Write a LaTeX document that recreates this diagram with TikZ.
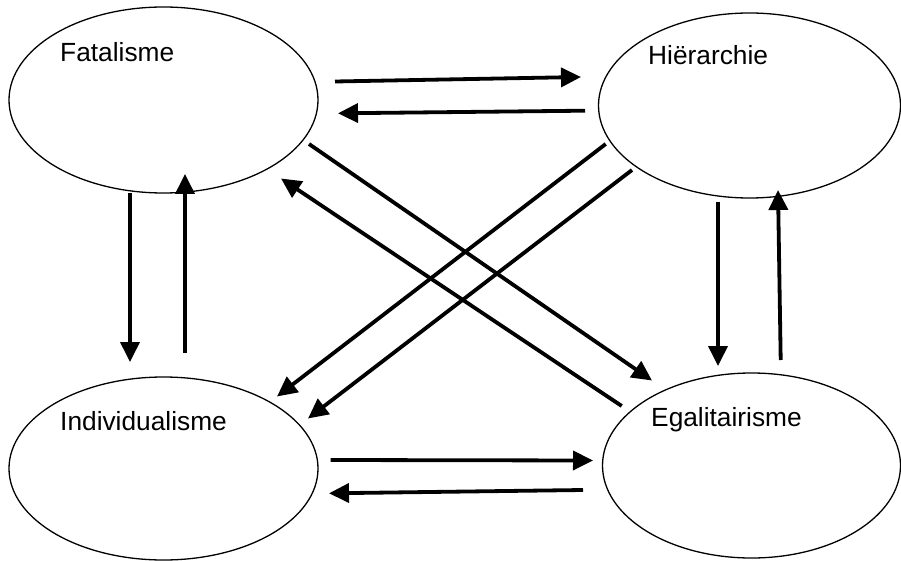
\documentclass[tikz,border=0pt]{standalone}
\usepackage{fontspec}
\setmainfont{Liberation Sans}
\usetikzlibrary{shapes.geometric,arrows.meta}
\begin{document}
\begin{tikzpicture}[x=1pt,y=-1pt,
  oval/.style={draw,ellipse,line width=1.3pt,inner sep=0pt},
  lbl/.style={anchor=base west,inner sep=0pt,font=\fontsize{26.3}{30}\selectfont},
  arr/.style={line width=3.8pt,-{Triangle[length=20pt,width=19pt]}}]
\useasboundingbox (0,0) rectangle (901,561);
% ellipses
\node[oval,minimum width=309pt,minimum height=186pt] (fat) at (163.5,100) {};
\node[oval,minimum width=302pt,minimum height=185pt] (hie) at (749.5,105.5) {};
\node[oval,minimum width=309pt,minimum height=183pt] (ind) at (163.5,468.5) {};
\node[oval,minimum width=298pt,minimum height=185pt] (ega) at (751.5,465.5) {};
% labels
\node[lbl] (tfat) at (60,61.7) {Fatalisme};
\node[lbl] (thie) at (648,65) {Hiërarchie};
\node[lbl] (tind) at (60,430.7) {Individualisme};
\node[lbl] (tega) at (651,426.7) {Egalitairisme};
% arrow end points
\coordinate (a1s) at (335,81.5);   \coordinate (a1e) at (581,77);
\coordinate (a2s) at (585,110.7);  \coordinate (a2e) at (338,113.3);
\coordinate (a3s) at (330.7,460);  \coordinate (a3e) at (593,460.5);
\coordinate (a4s) at (583,490);    \coordinate (a4e) at (329,493.3);
\coordinate (a5s) at (130,193);    \coordinate (a5e) at (130,362);
\coordinate (a6s) at (185,353);    \coordinate (a6e) at (185,174);
\coordinate (a7s) at (718,201.7);  \coordinate (a7e) at (718,366);
\coordinate (a8s) at (780.7,360);  \coordinate (a8e) at (778,190);
\coordinate (a9s) at (309,144);    \coordinate (a9e) at (652,380.5);
\coordinate (a10s) at (621.7,406); \coordinate (a10e) at (281,178.5);
\coordinate (a11s) at (605.7,144); \coordinate (a11e) at (277,396.5);
\coordinate (a12s) at (632,170);   \coordinate (a12e) at (308,418.5);
% arrows
\draw[arr] (a1s) -- (a1e);
\draw[arr] (a2s) -- (a2e);
\draw[arr] (a3s) -- (a3e);
\draw[arr] (a4s) -- (a4e);
\draw[arr] (a5s) -- (a5e);
\draw[arr] (a6s) -- (a6e);
\draw[arr] (a7s) -- (a7e);
\draw[arr] (a8s) -- (a8e);
\draw[arr] (a9s) -- (a9e);
\draw[arr] (a10s) -- (a10e);
\draw[arr] (a11s) -- (a11e);
\draw[arr] (a12s) -- (a12e);
\end{tikzpicture}
\end{document}
